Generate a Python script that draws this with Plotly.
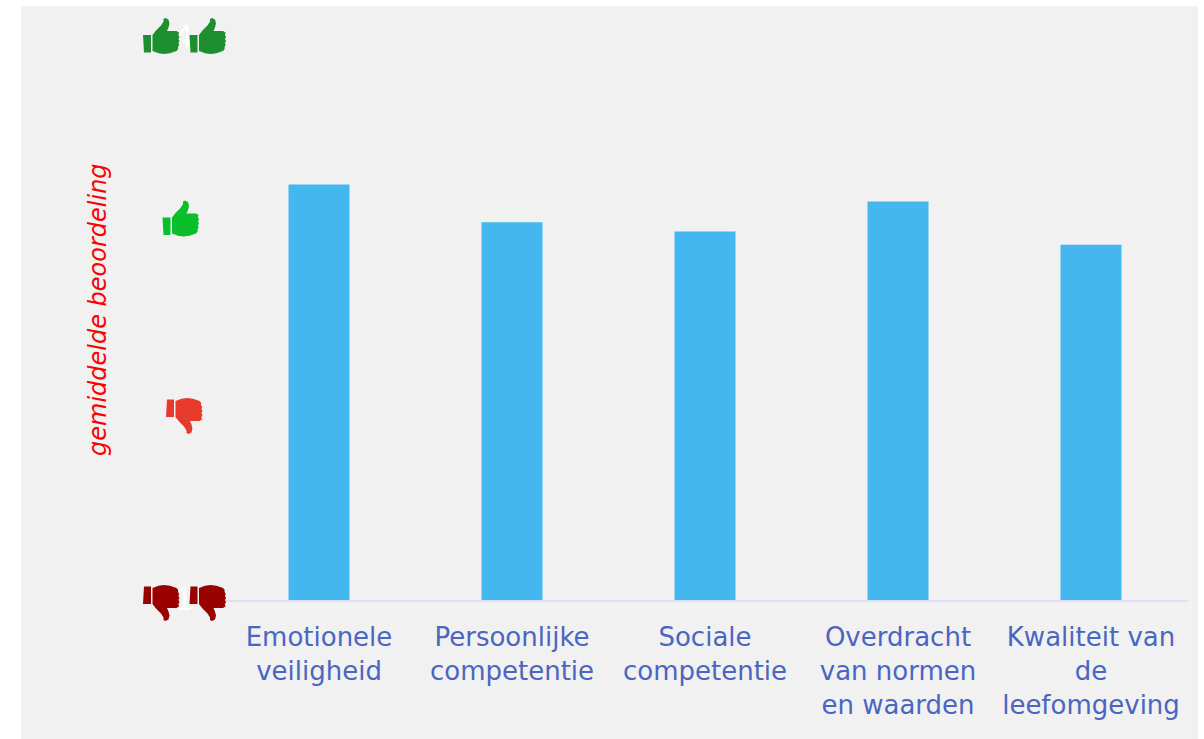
import plotly.graph_objects as go

categories = ["Emotionele<br>veiligheid", "Persoonlijke<br>competentie", "Sociale<br>competentie",
              "Overdracht<br>van normen<br>en waarden", "Kwaliteit van<br>de<br>leefomgeving"]
values = [3.21, 3.01, 2.96, 3.12, 2.89]
y_ticks = [1, 2, 3, 4]
y_title = "gemiddelde beoordeling"

W, H = 1204, 739
BAR = "#44b7ee"
BG = "#f1f1f1"
TXT = "#4a66c0"

# thumb outline in a 38 x 36 box (thumb up)
SLEEVE = [(0, 17), (8, 17), (8, 34.5), (1, 34.5)]
HAND = [(9.5, 17), (13, 12.5), (18, 7.5), (20.5, 3.5), (20.5, 1), (22.5, 0), (25.5, 1.5), (26.5, 5.5),
        (25.5, 9.5), (24, 13), (33.5, 13), (36, 14.5), (35.4, 17), (36.6, 19), (35.4, 21), (36.6, 23),
        (35.4, 25), (36.2, 27), (35, 29), (35.2, 31), (33.5, 33), (27, 35.2), (21, 36), (15.5, 35.3), (9.5, 33)]


def thumb_path(x0, y0, flip):
    def pt(p):
        y = 36 - p[1] if flip else p[1]
        return f"{(x0 + p[0]) / W:.5f},{1 - (y0 + y) / H:.5f}"
    parts = []
    for poly in (SLEEVE, HAND):
        parts.append("M" + " L".join(pt(p) for p in poly) + " Z")
    return " ".join(parts)


def thumb(x0, y0, color, flip=False):
    return dict(type="path", xref="paper", yref="paper", path=thumb_path(x0, y0, flip),
                fillcolor=color, line=dict(width=0), layer="above")


shapes = [
    dict(type="rect", xref="paper", yref="paper", x0=21 / W, x1=1198 / W, y0=0, y1=1 - 6 / H,
         fillcolor=BG, line=dict(width=0), layer="below"),
    thumb(143, 18, "#1e8f2e"), thumb(189.5, 18, "#1e8f2e"),
    thumb(162.5, 200.5, "#0abf2a"),
    thumb(166, 398, "#e8392d", True),
    thumb(143, 585, "#990000", True), thumb(189.5, 585, "#990000", True),
]

fig = go.Figure(go.Bar(x=categories, y=values, width=0.316, marker=dict(color=BAR, line=dict(width=0))))
fig.update_layout(
    width=W, height=H, autosize=False, margin=dict(l=0, r=0, t=0, b=0, pad=0),
    paper_bgcolor="white", plot_bgcolor="rgba(0,0,0,0)", showlegend=False, shapes=shapes,
    font=dict(family="DejaVu Sans"),
    xaxis=dict(domain=[222.5 / W, 1187.5 / W], showline=True, linecolor="#dde1f2", linewidth=2,
               tickfont=dict(size=26, color=TXT), ticks="", ticklabelstandoff=13, showgrid=False,
               zeroline=False, automargin=False),
    yaxis=dict(domain=[(H - 600) / H, (H - 36) / H], range=[0.999, 4.001], tickvals=y_ticks,
               tickfont=dict(size=30, color="white"), ticklabelstandoff=28, showgrid=False,
               zeroline=False, showline=False, automargin=False),
    annotations=[dict(text=f"<i>{y_title}</i>", xref="paper", yref="paper", x=98 / W, y=1 - 310 / H,
                      xanchor="center", yanchor="middle", textangle=-90, showarrow=False,
                      font=dict(size=24, color="#ff0000"))],
)
fig.write_html("out.html", config=dict(displayModeBar=False),
               post_script="document.body.style.margin='0';window.dispatchEvent(new Event('resize'));")
